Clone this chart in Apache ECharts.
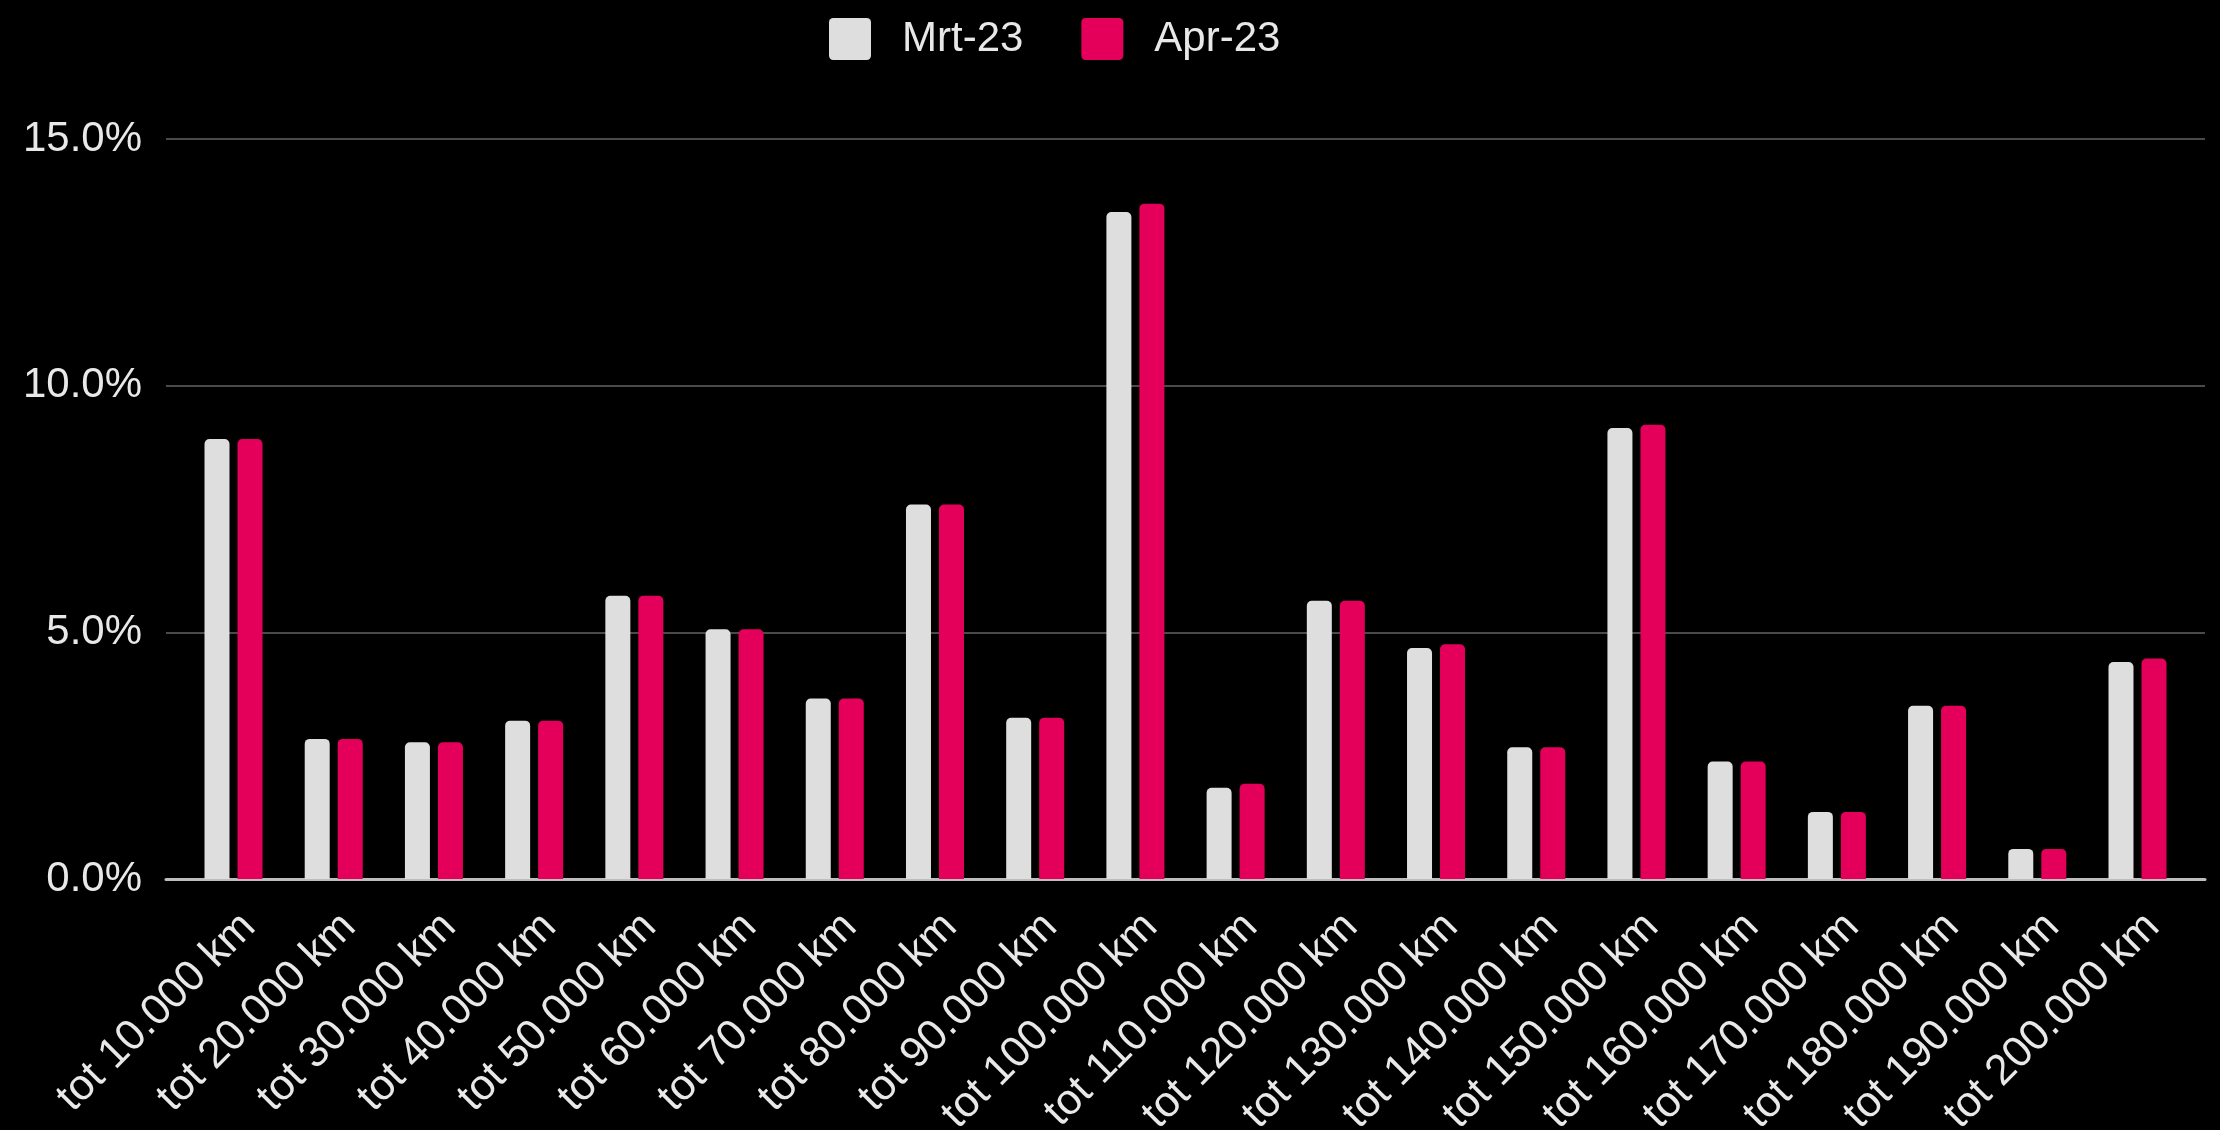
<!DOCTYPE html>
<html>
<head>
<meta charset="utf-8">
<script src="https://cdn.jsdelivr.net/npm/echarts@6/dist/echarts.min.js"></script>
<style>
  html, body { margin: 0; padding: 0; background: #000; }
  #chart { width: 2220px; height: 1130px; }
</style>
</head>
<body>
<div id="chart"></div>
<script>
const categories = [
  "tot 10.000 km", "tot 20.000 km", "tot 30.000 km", "tot 40.000 km", "tot 50.000 km",
  "tot 60.000 km", "tot 70.000 km", "tot 80.000 km", "tot 90.000 km", "tot 100.000 km",
  "tot 110.000 km", "tot 120.000 km", "tot 130.000 km", "tot 140.000 km", "tot 150.000 km",
  "tot 160.000 km", "tot 170.000 km", "tot 180.000 km", "tot 190.000 km", "tot 200.000 km"
];
const seriesNames = ["Mrt-23", "Apr-23"];
// percentages
const mrt23 = [8.92, 2.84, 2.77, 3.21, 5.74, 5.06, 3.66, 7.59, 3.27, 13.52,
               1.85, 5.64, 4.68, 2.67, 9.14, 2.38, 1.36, 3.51, 0.61, 4.40];
const apr23 = [8.92, 2.84, 2.77, 3.21, 5.74, 5.06, 3.66, 7.59, 3.27, 13.69,
               1.93, 5.64, 4.76, 2.67, 9.21, 2.38, 1.36, 3.51, 0.61, 4.47];
const yTicks = [0, 5, 10, 15];

const font = '"Liberation Sans", Arial, sans-serif';
const txt = "#e8e8e8";
const colors = ["#dedede", "#e4005a"];

const chart = echarts.init(document.getElementById("chart"));
const sq = "path://M4,0H36A4,4 0 0 1 40,4V36A4,4 0 0 1 36,40H4A4,4 0 0 1 0,36V4A4,4 0 0 1 4,0Z";

chart.setOption({
  backgroundColor: "#000",
  animation: false,
  color: colors,
  legend: {
    left: 824,
    top: 13,
    itemWidth: 42,
    itemHeight: 42,
    itemGap: 58,
    data: seriesNames.map((n) => ({ name: n, icon: sq })),
    textStyle: {
      color: txt,
      fontSize: 42,
      fontFamily: font,
      padding: [0, 0, 0, 26],
    },
  },
  grid: [
    { left: 166, right: 15, top: 139, bottom: 251, outerBoundsMode: "none" },
    { left: 183.4, right: 32.4, top: 139, bottom: 251, outerBoundsMode: "none" },
  ],
  xAxis: [
    {
      gridIndex: 0,
      type: "value",
      min: 0,
      max: 1,
      axisLine: { show: true, lineStyle: { color: "#bdbdbd", width: 3 } },
      axisTick: { show: false },
      axisLabel: { show: false },
      splitLine: { show: false },
    },
    {
      gridIndex: 1,
      type: "category",
      data: categories,
      axisLine: { show: false },
      axisTick: { show: false },
      axisLabel: {
        interval: 0,
        rotate: 45,
        margin: 26,
        verticalAlign: "top",
        color: txt,
        fontSize: 43,
        fontFamily: font,
      },
    },
  ],
  yAxis: [
    {
      gridIndex: 0,
      type: "value",
      min: yTicks[0],
      max: yTicks[yTicks.length - 1],
      interval: yTicks[1] - yTicks[0],
      axisLine: { show: false },
      axisTick: { show: false },
      axisLabel: {
        margin: 24,
        color: txt,
        fontSize: 42,
        fontFamily: font,
        formatter: (v) => v.toFixed(1) + "%",
      },
      splitLine: { lineStyle: { color: "#4a4a4a", width: 2 } },
    },
    {
      gridIndex: 1,
      type: "value",
      min: yTicks[0],
      max: yTicks[yTicks.length - 1],
      show: false,
      splitLine: { show: false },
    },
  ],
  series: [
    {
      name: seriesNames[0],
      type: "bar",
      xAxisIndex: 1,
      yAxisIndex: 1,
      barWidth: 25,
      barGap: "32%",
      itemStyle: { borderRadius: [5, 5, 0, 0] },
      data: mrt23,
    },
    {
      name: seriesNames[1],
      type: "bar",
      xAxisIndex: 1,
      yAxisIndex: 1,
      barWidth: 25,
      barGap: "32%",
      itemStyle: { borderRadius: [5, 5, 0, 0] },
      data: apr23,
    },
  ],
});
</script>
</body>
</html>
